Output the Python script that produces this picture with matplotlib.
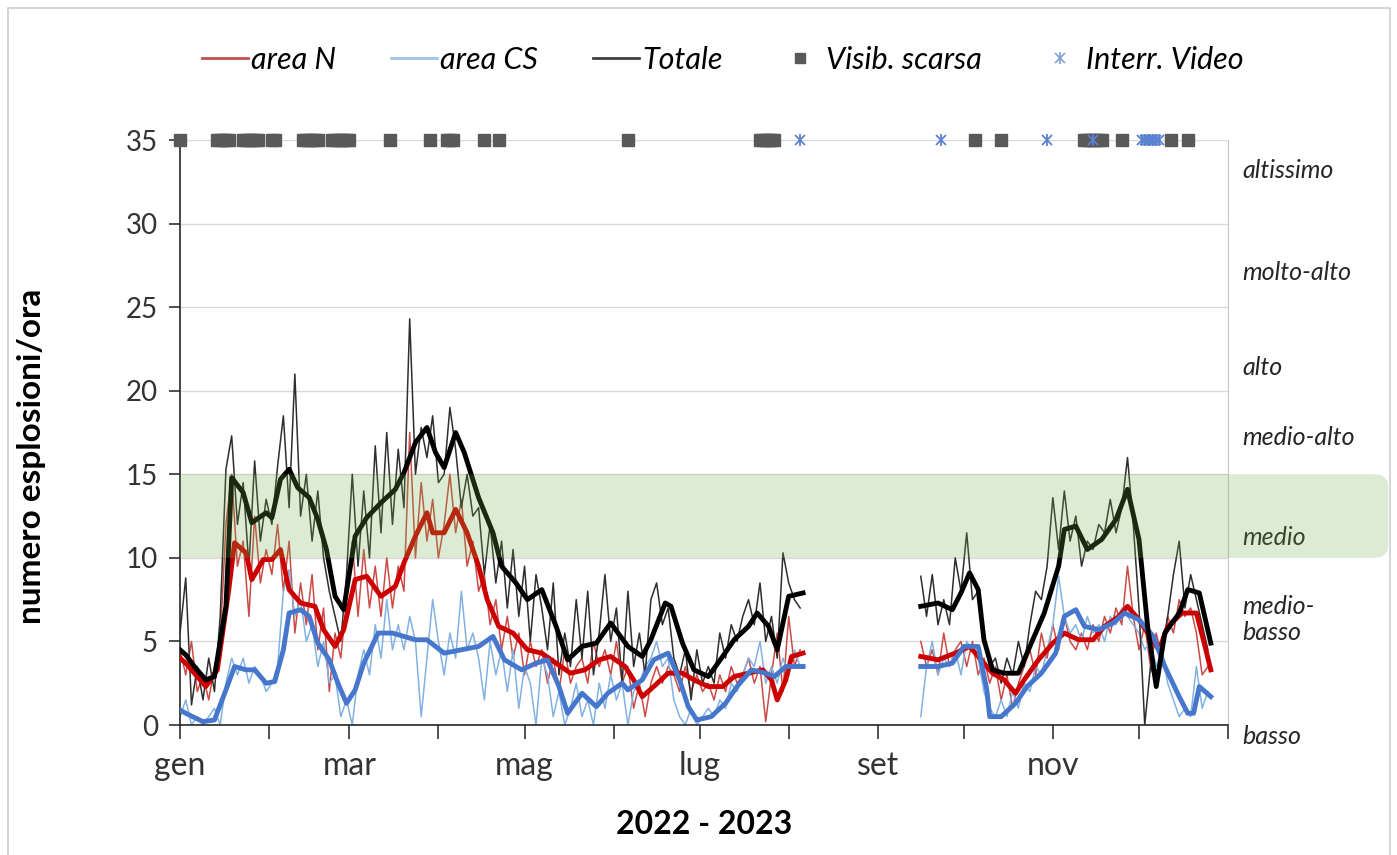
import numpy as np
import matplotlib
matplotlib.use("Agg")
import matplotlib.pyplot as plt
from matplotlib.path import Path
from matplotlib.patches import PathPatch, Rectangle
from matplotlib.transforms import IdentityTransform, blended_transform_factory
from matplotlib.legend_handler import HandlerTuple
from matplotlib.lines import Line2D

plt.rcParams['font.family'] = ['Lato', 'DejaVu Sans']

# ---- data (day of year, explosions/hour) ----
days_a = np.arange(0, 217, 2)      # Jan -> early Aug
days_b = np.arange(258, 359, 2)    # mid Sep -> Dec

tot_a = [5.5, 8.8, 1.2, 3.5, 1.5, 4.0, 2.0, 6.5, 15.3, 17.3,
         12.0, 14.5, 9.5, 15.8, 11.0, 13.5, 12.0, 15.5, 18.5, 13.0,
         21.0, 12.5, 15.0, 11.0, 14.0, 10.0, 8.0, 6.5, 5.0, 9.0,
         15.0, 9.5, 14.0, 10.0, 16.7, 11.5, 17.5, 12.0, 16.5, 13.0,
         24.3, 15.0, 17.8, 16.0, 18.5, 14.5, 15.0, 19.0, 16.5, 13.0,
         15.0, 12.5, 13.0, 9.0, 12.0, 8.5, 11.0, 7.0, 10.5, 6.5,
         9.5, 5.0, 9.0, 7.0, 4.5, 8.5, 3.0, 5.5, 3.5, 7.5,
         4.0, 8.0, 3.0, 5.5, 9.0, 5.0, 7.0, 2.5, 8.0, 3.5,
         5.5, 3.0, 7.5, 8.5, 6.0, 7.0, 4.0, 3.0, 4.5, 1.5,
         4.5, 2.5, 3.5, 2.5, 5.5, 4.0, 6.0, 5.0, 6.5, 7.5,
         6.0, 8.5, 5.0, 6.5, 4.0, 10.3, 8.5, 7.5, 7.0]
n_a = [4.5, 3.0, 5.0, 2.0, 3.0, 1.5, 3.5, 5.0, 12.0, 15.0,
       9.5, 11.0, 6.5, 12.5, 8.5, 10.5, 9.0, 12.0, 8.0, 11.0,
       5.5, 8.5, 6.0, 9.0, 4.5, 7.0, 2.0, 5.5, 4.0, 7.5,
       11.0, 6.5, 10.5, 7.0, 9.5, 6.5, 10.0, 7.0, 9.5, 8.0,
       17.5, 10.0, 14.5, 11.0, 13.5, 10.0, 12.0, 15.0, 11.5, 13.5,
       9.5, 11.0, 8.0, 9.0, 6.0, 7.5, 4.5, 6.5, 4.0, 5.5,
       3.0, 5.0, 3.5, 4.5, 2.5, 4.0, 2.0, 4.5, 2.5, 3.5,
       4.0, 2.5, 5.0, 3.5, 4.5, 3.0, 5.0, 2.5, 3.5, 1.0,
       2.5, 0.5, 2.5, 3.5, 2.5, 3.5, 3.0, 2.0, 3.5, 2.0,
       3.0, 2.0, 2.5, 1.5, 3.0, 2.0, 3.5, 2.5, 3.0, 4.0,
       2.5, 3.5, 0.2, 3.0, 5.5, 2.0, 6.5, 3.5, 4.5]
cs_a = [0.5, 1.5, 0.0, 0.5, 0.0, 0.5, 1.0, 0.0, 2.5, 4.0,
        3.0, 4.0, 2.5, 3.5, 3.0, 2.0, 2.5, 3.5, 8.0, 9.3,
        6.5, 7.5, 5.0, 6.0, 3.5, 5.0, 2.5, 3.0, 0.5, 1.5,
        0.0, 3.0, 4.5, 3.0, 6.0, 4.0, 7.5, 4.5, 6.0, 4.5,
        6.5, 5.0, 0.5, 4.0, 7.5, 5.0, 3.0, 5.5, 4.0, 8.0,
        4.5, 5.5, 4.0, 1.5, 5.0, 3.0, 4.5, 2.0, 4.5, 1.0,
        3.5, 2.5, 0.0, 4.0, 3.0, 0.5, 2.0, 0.0, 1.0, 2.5,
        0.5, 1.5, 0.0, 2.5, 1.0, 3.0, 1.5, 2.5, 0.0, 2.0,
        2.5, 3.5, 4.0, 5.0, 3.5, 4.0, 1.5, 0.5, 0.0, 1.0,
        0.0, 0.5, 1.0, 0.5, 1.5, 1.0, 2.5, 2.0, 3.0, 4.0,
        3.5, 5.0, 2.5, 3.5, 2.5, 4.0, 3.0, 4.5, 3.5]

tot_b = [8.9, 6.5, 9.0, 6.0, 7.5, 6.0, 10.0, 8.0, 11.5, 7.5,
         8.0, 5.0, 3.5, 4.0, 2.5, 4.0, 3.0, 5.0, 3.5, 6.0,
         8.0, 7.5, 9.5, 13.6, 10.5, 14.0, 11.0, 12.5, 9.5, 11.0,
         10.5, 12.0, 11.5, 13.5, 11.5, 13.0, 16.0, 12.0, 7.0, 0.0,
         3.5, 2.5, 4.5, 6.5, 9.0, 11.0, 7.0, 9.0, 7.5, 6.0,
         4.5]
n_b = [5.0, 3.5, 4.5, 3.0, 5.5, 3.5, 4.5, 5.0, 3.5, 5.0,
       3.0, 4.0, 2.5, 3.5, 1.5, 3.0, 1.0, 2.5, 3.5, 4.5,
       3.0, 5.5, 4.0, 6.0, 4.5, 6.5, 5.0, 4.5, 5.5, 4.5,
       6.0, 5.0, 6.5, 5.5, 7.0, 6.0, 9.5, 6.5, 4.5, 6.0,
       3.5, 5.5, 4.0, 6.5, 5.5, 7.5, 6.5, 7.0, 5.5, 3.0,
       3.5]
cs_b = [0.5, 3.5, 5.0, 3.0, 4.0, 3.5, 4.5, 3.0, 5.0, 4.5,
        4.0, 2.0, 1.0, 0.5, 1.5, 0.5, 2.0, 1.0, 2.5, 2.0,
        3.5, 3.0, 4.5, 6.0, 8.9, 6.5, 5.5, 6.0, 5.0, 6.5,
        5.5, 6.0, 5.0, 6.5, 6.0, 7.0, 6.5, 6.0, 5.5, 4.5,
        5.0, 3.5, 4.5, 2.5, 1.5, 0.5, 1.0, 0.5, 3.5, 1.0,
        2.0]

# smoothed (moving average) curves
tot_s_days_a = [0, 2, 5, 9, 12, 14, 16, 18, 22, 25, 30, 32, 35, 38, 41, 45, 48, 51, 54, 57,
                61, 65, 70, 75, 78, 82, 86, 89, 92, 96, 99, 104, 109, 112, 117, 121, 126, 131, 135, 140,
                145, 150, 156, 161, 164, 169, 171, 175, 179, 184, 189, 193, 198, 201, 205, 208, 212, 217]
tot_s_a = [4.5, 4.2, 3.5, 2.7, 2.9, 5.0, 7.1, 14.8, 13.9, 12.1, 12.7, 12.4, 14.7, 15.3, 14.2, 13.6, 12.3, 10.5, 7.7, 6.9,
           11.3, 12.4, 13.3, 14.1, 15.1, 16.9, 17.8, 16.3, 15.4, 17.5, 16.3, 13.6, 11.5, 9.5, 8.5, 7.5, 8.1, 5.9, 3.9, 4.7,
           4.9, 6.1, 4.7, 4.1, 5.1, 7.3, 7.1, 4.9, 3.3, 2.9, 4.1, 5.1, 5.9, 6.7, 5.9, 4.5, 7.7, 7.9]
tot_s_days_b = [258, 264, 269, 272, 275, 278, 280, 283, 287, 292, 297, 301, 306, 308, 312, 316, 321, 326, 330, 334,
                337, 340, 343, 348, 351, 355, 359]
tot_s_b = [7.1, 7.3, 6.9, 7.9, 9.1, 8.1, 5.1, 3.3, 3.1, 3.1, 5.1, 6.7, 9.5, 11.7, 11.9, 10.5, 11.1, 12.3, 14.1, 11.1,
           5.9, 2.3, 5.5, 6.7, 8.1, 7.9, 4.9]

n_s_days_a = [0, 2, 9, 13, 17, 19, 23, 25, 29, 32, 35, 38, 42, 47, 50, 54, 57, 61, 65, 70,
              75, 78, 82, 86, 88, 92, 96, 100, 104, 107, 111, 116, 121, 126, 131, 136, 141, 146, 150, 155,
              158, 161, 165, 170, 175, 179, 184, 189, 193, 198, 203, 206, 208, 211, 213, 217]
n_s_a = [4.0, 3.7, 2.3, 3.3, 8.1, 10.9, 10.3, 8.7, 9.9, 9.9, 10.5, 8.1, 7.3, 7.1, 5.7, 4.7, 5.7, 8.7, 8.9, 7.7,
         8.3, 9.7, 11.3, 12.7, 11.5, 11.5, 12.9, 11.5, 9.5, 7.5, 5.9, 5.5, 4.5, 4.3, 3.7, 3.1, 3.3, 3.9, 4.1, 3.5,
         2.7, 1.7, 2.3, 3.1, 3.1, 2.7, 2.3, 2.3, 2.9, 3.1, 3.3, 2.7, 1.5, 2.7, 4.1, 4.3]
n_s_days_b = [258, 264, 270, 275, 279, 283, 287, 291, 294, 299, 304, 308, 313, 318, 322, 327, 330, 334, 337, 341,
              344, 349, 354, 357, 359]
n_s_b = [4.1, 3.9, 4.3, 4.7, 3.9, 3.1, 2.7, 1.9, 2.7, 3.9, 4.9, 5.5, 5.1, 5.1, 5.9, 6.5, 7.1, 6.3, 5.5, 4.5,
         5.9, 6.7, 6.7, 4.7, 3.3]

cs_s_days_a = [0, 2, 8, 12, 16, 19, 23, 26, 30, 33, 36, 38, 42, 45, 48, 52, 55, 58, 61, 64,
               69, 74, 78, 82, 86, 92, 98, 104, 109, 113, 119, 124, 128, 132, 135, 140, 145, 149, 154, 156,
               161, 165, 170, 174, 177, 180, 185, 190, 194, 199, 204, 207, 211, 217]
cs_s_a = [0.9, 0.7, 0.2, 0.3, 2.1, 3.5, 3.3, 3.3, 2.5, 2.6, 4.5, 6.7, 6.9, 6.5, 4.9, 3.9, 2.5, 1.3, 2.1, 3.7,
          5.5, 5.5, 5.3, 5.1, 5.1, 4.3, 4.5, 4.7, 5.3, 3.9, 3.3, 3.7, 3.9, 2.3, 0.7, 1.9, 1.1, 1.9, 2.5, 2.1,
          2.7, 3.9, 4.3, 2.7, 1.1, 0.3, 0.5, 1.3, 2.3, 3.3, 3.1, 2.9, 3.5, 3.5]
cs_s_days_b = [258, 264, 269, 273, 278, 281, 282, 286, 291, 295, 300, 305, 308, 312, 315, 320, 325, 329, 334, 339,
               343, 348, 351, 353, 355, 359]
cs_s_b = [3.5, 3.5, 3.7, 4.7, 4.7, 2.1, 0.5, 0.5, 1.3, 2.3, 3.1, 4.3, 6.5, 6.9, 5.9, 5.7, 6.1, 6.7, 6.3, 5.3,
          3.5, 1.7, 0.7, 0.7, 2.3, 1.7]

visib_days = [0, 13, 14, 15, 16, 17, 22, 23, 24, 25, 26, 27, 32, 33, 43, 44, 45, 46, 47, 48,
              53, 54, 55, 56, 57, 58, 59, 73, 87, 93, 94, 95, 106, 111, 156,
              202, 203, 204, 205, 206, 207, 277, 286, 315, 316, 317, 318, 319, 320, 321, 328, 345, 351]
video_days = [216, 265, 302, 318, 335, 336, 337, 338, 339, 340, 341]

month_starts = [0, 31, 59, 90, 120, 151, 181, 212, 243, 273, 304, 334, 365]
month_labels = ['gen', '', 'mar', '', 'mag', '', 'lug', '', 'set', '', 'nov', '', '']
levels = ['altissimo', 'molto-alto', 'alto', 'medio-alto', 'medio', 'medio-\nbasso', 'basso']
level_pos = [33.2, 27.1, 21.4, 17.2, 11.2, 6.3, -0.7]

# ---- figure ----
fig = plt.figure(figsize=(13.97, 8.55), dpi=100)
ax = fig.add_axes([180 / 1397, 130 / 855, 1048 / 1397, 585 / 855])
ax.set_xlim(0, 365)
ax.set_ylim(0, 35)

red_thin, blue_thin, blk_thin = '#cd4b47', '#82b2e2', '#2e2e2e'
for d, vals, c in [(days_a, n_a, red_thin), (days_b, n_b, red_thin),
                   (days_a, cs_a, blue_thin), (days_b, cs_b, blue_thin),
                   (days_a, tot_a, blk_thin), (days_b, tot_b, blk_thin)]:
    ax.plot(d, vals, color=c, lw=1.1, zorder=2)

for d, vals, c in [(n_s_days_a, n_s_a, '#cc0000'), (n_s_days_b, n_s_b, '#cc0000'),
                   (cs_s_days_a, cs_s_a, '#4677cc'), (cs_s_days_b, cs_s_b, '#4677cc'),
                   (tot_s_days_a, tot_s_a, '#000000'), (tot_s_days_b, tot_s_b, '#000000')]:
    ax.plot(d, vals, color=c, lw=3.5, zorder=3, solid_joinstyle='round')

ax.plot(visib_days, [35] * len(visib_days), ls='none', marker='s', ms=8,
        color='#595959', clip_on=False, zorder=6)
ax.plot(video_days, [35] * len(video_days), ls='none', marker='x', ms=7, mew=1.3,
        color='#5b82d0', clip_on=False, zorder=7)
ax.plot(video_days, [35] * len(video_days), ls='none', marker='|', ms=9, mew=1.3,
        color='#5b82d0', clip_on=False, zorder=7)

# green "medio" band, translucent, running out into the right margin with rounded end
x0, y0 = ax.transData.transform((0, 10))
x1, y1 = ax.transData.transform((365, 15))
xr = ax.transAxes.transform((1.153, 0))[0]
r = 14
verts = [(x0, y0), (xr - r, y0), (xr, y0), (xr, y0 + r), (xr, y1 - r), (xr, y1),
         (xr - r, y1), (x0, y1), (x0, y0)]
codes = [Path.MOVETO, Path.LINETO, Path.CURVE3, Path.CURVE3, Path.LINETO,
         Path.CURVE3, Path.CURVE3, Path.LINETO, Path.CLOSEPOLY]
band = PathPatch(Path(verts, codes), transform=IdentityTransform(), facecolor='#70ad47',
                 alpha=0.24, edgecolor='none', clip_on=False, zorder=5)
ax.add_artist(band)

# axes styling
ax.set_yticks(range(0, 36, 5))
ax.set_xticks(month_starts)
ax.set_xticklabels(month_labels)
ax.grid(axis='y', color='#d9d9d9', lw=1.0)
ax.set_axisbelow(True)
ax.spines['top'].set_visible(False)
ax.spines['right'].set_color('#c8c8c8')
ax.spines['left'].set_color('#262626')
ax.spines['bottom'].set_color('#262626')
ax.spines['left'].set_linewidth(1.2)
ax.spines['bottom'].set_linewidth(1.2)
ax.tick_params(axis='y', length=8, width=1.2, pad=8, labelsize=20, colors='#333333')
ax.tick_params(axis='x', length=10, width=1.2, pad=9, labelsize=23, colors='#333333')

ax.set_ylabel('numero esplosioni/ora', fontsize=24, fontweight='bold')
ax.yaxis.set_label_coords(-0.128, 0.46)
ax.set_xlabel('2022 - 2023', fontsize=23, fontweight='bold', va='top')
ax.xaxis.set_label_coords(0.5, -0.145)

tr = blended_transform_factory(ax.transAxes, ax.transData)
for lab, yv in zip(levels, level_pos):
    ax.text(1.014, yv, lab, transform=tr, fontsize=18, style='italic', color='#262626',
            va='center', ha='left', linespacing=1.15)

# legend
h_n = Line2D([], [], color='#c0504d', lw=2)
h_cs = Line2D([], [], color='#9dc3e6', lw=2)
h_t = Line2D([], [], color='#404040', lw=2)
h_v = Line2D([], [], ls='none', marker='s', ms=7, color='#595959')
h_x1 = Line2D([], [], ls='none', marker='x', ms=7, mew=1.2, color='#7f9fd8')
h_x2 = Line2D([], [], ls='none', marker='|', ms=9, mew=1.2, color='#7f9fd8')
fig.legend([h_n, h_cs, h_t, h_v, (h_x1, h_x2)],
           ['area N', 'area CS', 'Totale', 'Visib. scarsa', 'Interr. Video'],
           handler_map={tuple: HandlerTuple(ndivide=1, pad=0)},
           loc='center', bbox_to_anchor=(0.5175, 0.93), ncol=5, frameon=False,
           prop={'size': 22, 'style': 'italic'}, handlelength=1.5, handletextpad=0.1,
           columnspacing=1.8)

# outer frame
fig.add_artist(Rectangle((8 / 1397, -0.05), 1382 / 1397, 1.05 - 8 / 855, transform=fig.transFigure,
                         fill=False, edgecolor='#cfcfcf', lw=1.2))

fig.savefig('out.png', dpi=100)
